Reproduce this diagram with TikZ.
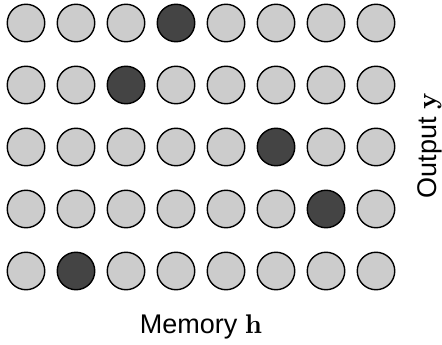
\documentclass[tikz,border=0pt]{standalone}
\usepackage[no-math]{fontspec}
\setmainfont{Liberation Sans}
\newfontfamily\lmb{lmroman10-bold.otf}
\definecolor{lightc}{HTML}{CCCCCC}
\definecolor{darkc}{HTML}{444444}
\begin{document}
\begin{tikzpicture}[x=1pt,y=-1pt,
  cell/.style={circle,draw=black,line width=1.4pt,fill=lightc,minimum size=37.5pt,inner sep=0pt},
  hot/.style={cell,fill=darkc},
  lbl/.style={font=\fontsize{27}{32}\selectfont,inner sep=0pt}]
\useasboundingbox (0,0) rectangle (442,345);
\foreach \r/\d in {1/4,2/3,3/6,4/7,5/2}{
  \foreach \c in {1,...,8}{
    \pgfmathsetmacro{\xx}{26+50*(\c-1)}
    \pgfmathsetmacro{\yy}{23+62*(\r-1)}
    \ifnum\c=\d
      \node[hot] (n\r\c) at (\xx,\yy) {};
    \else
      \node[cell] (n\r\c) at (\xx,\yy) {};
    \fi
  }
}
\node[lbl,anchor=base] (mem) at (201,333) {Memory {\lmb h}};
\node[lbl,rotate=90,anchor=base] (out) at (436,146) {Output {\lmb y}};
\end{tikzpicture}
\end{document}
